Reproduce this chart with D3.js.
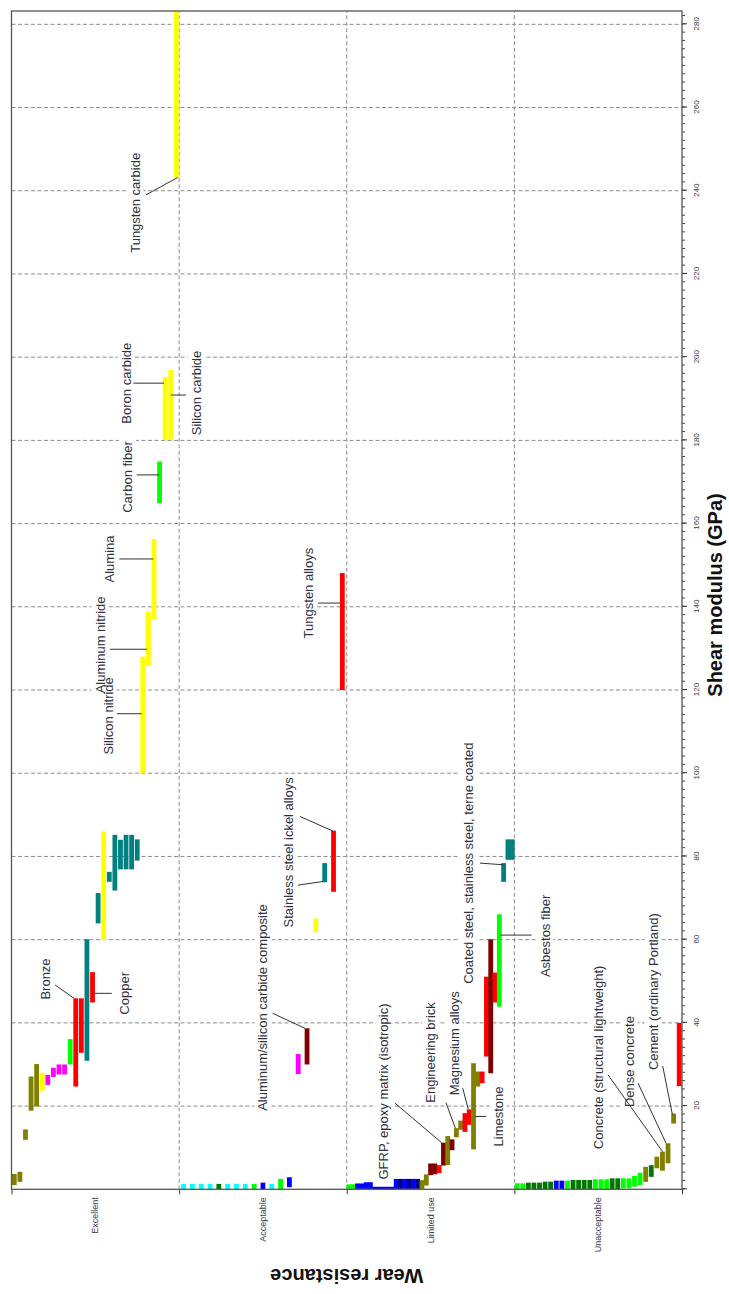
<!DOCTYPE html>
<html>
<head>
<meta charset="utf-8">
<script src="https://cdn.jsdelivr.net/npm/d3@7"></script>
<style>
  html, body { margin: 0; padding: 0; background: #fff; }
  svg { display: block; }
  text { font-family: "Liberation Sans", Arial, Helvetica, sans-serif; }
</style>
</head>
<body>
<svg id="chart" width="729" height="1294"></svg>
<script>
// ---- Data -------------------------------------------------------------

// Wear-resistance classes along the category axis
const categories = ["Excellent", "Acceptable", "Limited use", "Unacceptable"];

// Shear modulus tick labels (GPa)
const modulusTicks = [20, 40, 60, 80, 100, 120, 140, 160, 180, 200, 220, 240, 260, 280];
const modulusMax = 283.2;

// Material families (key -> fill)
const familyColor = {
  natural: "#808000", techCeramic: "#ffff00", glass: "#ff00ff", fibre: "#00ff00",
  nonferrous: "#ff0000", ferrous: "#008080", polymer: "#0000ff", elastomer: "#00008b",
  foam: "#00ffff", composite: "#800000", plant: "#007800"
};

// Each class: [family, low shear modulus, high shear modulus] in slot order
const excellent = [
  ["natural", 1.0, 3.7], ["natural", 1.8, 4.2], ["natural", 11.9, 14.4], ["natural", 18.9, 27.1],
  ["natural", 19.9, 30.1], ["techCeramic", 23.7, 28.0], ["glass", 25.1, 27.5], ["glass", 27.0, 29.2],
  ["glass", 27.6, 30.0], ["glass", 27.6, 30.0], ["fibre", 30.0, 36.1], ["nonferrous", 24.7, 45.9],
  ["nonferrous", 32.8, 45.9], ["ferrous", 30.9, 60.1], ["nonferrous", 44.9, 52.2], ["ferrous", 63.9, 71.2],
  ["techCeramic", 59.9, 86.0], ["ferrous", 73.9, 76.3], ["ferrous", 71.8, 85.2], ["ferrous", 76.9, 84.0],
  ["ferrous", 76.9, 85.2], ["ferrous", 76.9, 85.2], ["ferrous", 79.0, 84.1], ["techCeramic", 100.0, 128.0],
  ["techCeramic", 126.0, 138.8], ["techCeramic", 137.0, 156.3], ["fibre", 164.9, 174.9], ["techCeramic", 180.1, 195.2],
  ["techCeramic", 180.1, 196.9], ["techCeramic", 243.2, 283.2]
];
const acceptable = [
  ["foam", 0.02, 1.3], ["foam", 0.02, 1.3], ["foam", 0.02, 1.3], ["foam", 0.02, 1.3],
  ["plant", 0.02, 1.3], ["foam", 0.02, 1.3], ["foam", 0.02, 1.3], ["foam", 0.02, 1.3],
  ["fibre", 0.02, 1.3], ["polymer", 0.02, 1.6], ["foam", 0.02, 1.3], ["fibre", 0.02, 2.5],
  ["polymer", 0.5, 2.9], ["glass", 27.7, 32.5], ["composite", 30.0, 38.7], ["techCeramic", 61.8, 65.1],
  ["ferrous", 73.8, 78.4], ["nonferrous", 71.5, 86.2], ["nonferrous", 120.0, 148.1]
];
const limitedUse = [
  ["fibre", 0.1, 1.2], ["fibre", 0.1, 1.2], ["polymer", 0.1, 1.4], ["polymer", 0.1, 1.4],
  ["polymer", 0.1, 1.7], ["polymer", 0.1, 1.7], ["polymer", 0.05, 0.6], ["polymer", 0.05, 0.6],
  ["polymer", 0.05, 0.6], ["polymer", 0.05, 0.6], ["polymer", 0.05, 0.6], ["polymer", 0.1, 2.5],
  ["elastomer", 0.1, 2.5], ["polymer", 0.1, 2.5], ["elastomer", 0.1, 2.5], ["polymer", 0.1, 2.5],
  ["elastomer", 0.1, 2.5], ["natural", 0.1, 2.2], ["natural", 0.9, 3.6], ["composite", 3.4, 6.2],
  ["composite", 3.6, 6.2], ["nonferrous", 3.9, 5.8], ["composite", 5.7, 11.2], ["natural", 5.8, 12.8],
  ["composite", 9.4, 12.0], ["natural", 12.5, 14.7], ["natural", 14.3, 16.5], ["nonferrous", 13.8, 18.3],
  ["nonferrous", 15.5, 19.2], ["natural", 9.6, 30.3], ["natural", 24.7, 28.3], ["nonferrous", 25.5, 28.3],
  ["nonferrous", 31.9, 51.1], ["composite", 27.9, 60.1], ["nonferrous", 44.9, 52.1], ["fibre", 43.9, 66.1],
  ["ferrous", 73.9, 78.4], ["ferrous", 79.2, 84.1], ["ferrous", 79.2, 84.1]
];
const unacceptable = [
  ["fibre", 0.02, 1.44], ["fibre", 0.02, 1.44], ["plant", 0.02, 1.6], ["plant", 0.02, 1.6],
  ["plant", 0.02, 1.6], ["plant", 0.02, 1.84], ["plant", 0.02, 1.84], ["polymer", 0.02, 2.08],
  ["polymer", 0.02, 2.08], ["fibre", 0.02, 2.08], ["plant", 0.02, 2.24], ["plant", 0.02, 2.24],
  ["plant", 0.02, 2.24], ["plant", 0.02, 2.24], ["fibre", 0.02, 2.4], ["fibre", 0.02, 2.4],
  ["fibre", 0.02, 2.4], ["plant", 0.02, 2.64], ["plant", 0.02, 2.64], ["fibre", 0.24, 2.64],
  ["fibre", 0.24, 2.64], ["fibre", 0.63, 3.2], ["fibre", 1.03, 4.0], ["natural", 1.8, 5.4],
  ["plant", 3.0, 5.8], ["natural", 5.05, 7.84], ["natural", 4.47, 9.04], ["natural", 6.25, 11.06],
  ["natural", 15.8, 18.2], ["nonferrous", 24.8, 40.0]
];
const classMaterials = [excellent, acceptable, limitedUse, unacceptable];

// Material labels: text, anchor [modulus, class position], leader segments [[m1, c1], [m2, c2]]
const annotations = [
  { text: "Tungsten carbide", at: [237.1, 0.737], leaders: [[[239.0, 0.802], [243.2, 0.992]]] },
  { text: "Boron carbide", at: [193.75, 0.684], leaders: [[[193.75, 0.727], [193.75, 0.910]]] },
  { text: "Silicon carbide", at: [191.4, 1.101], leaders: [[[190.9, 0.950], [190.9, 1.041]]] },
  { text: "Carbon fiber", at: [171.2, 0.692], leaders: [[[171.7, 0.747], [171.7, 0.882]]] },
  { text: "Alumina", at: [151.5, 0.582], leaders: [[[151.5, 0.643], [151.5, 0.846]]] },
  { text: "Aluminum nitride", at: [130.85, 0.528], leaders: [[[129.8, 0.588], [129.8, 0.808]]] },
  { text: "Silicon nitride", at: [113.8, 0.576], leaders: [[[114.3, 0.628], [114.3, 0.777]]] },
  { text: "Bronze", at: [50.55, 0.205], leaders: [[[49.1, 0.260], [45.9, 0.373]]] },
  { text: "Copper", at: [47.1, 0.674], leaders: [[[47.1, 0.479], [47.1, 0.598]]] },
  { text: "Aluminum/silicon carbide composite", at: [43.7, 1.500], leaders: [[[42.3, 1.558], [38.7, 1.751]]] },
  { text: "Stainless steel ickel alloys", at: [81.0, 1.655],
    leaders: [[[89.6, 1.721], [86.1, 1.918]], [[73.1, 1.709], [74.0, 1.861]]] },
  { text: "Tungsten alloys", at: [143.3, 1.769], leaders: [[[140.9, 1.829], [140.9, 1.960]]] },
  { text: "GFRP, epoxy matrix (isotropic)", at: [23.5, 2.222], leaders: [[[20.7, 2.288], [11.2, 2.566]]] },
  { text: "Engineering brick", at: [32.9, 2.501], leaders: [[[20.8, 2.592], [14.7, 2.648]]] },
  { text: "Magnesium alloys", at: [35.1, 2.641], leaders: [[[24.3, 2.692], [19.2, 2.725]]] },
  { text: "Limestone", at: [17.5, 2.904], leaders: [[[17.5, 2.765], [17.5, 2.831]]] },
  { text: "Coated steel, stainless steel, terne coated", at: [78.4, 2.725], leaders: [[[78.4, 2.795], [78.0, 2.934]]] },
  { text: "Asbestos fiber", at: [60.9, 3.183], leaders: [[[61.1, 2.914], [61.1, 3.103]]] },
  { text: "Concrete (structural lightweight)", at: [31.7, 3.504], leaders: [[[27.5, 3.559], [9.04, 3.884]]] },
  { text: "Dense concrete", at: [30.7, 3.685], leaders: [[[25.5, 3.738], [11.06, 3.905]]] },
  { text: "Cement (ordinary Portland)", at: [47.5, 3.827], leaders: [[[29.6, 3.885], [17.9, 3.943]]] }
];

// ---- Layout -----------------------------------------------------------
// The chart is laid out landscape (W x H) and turned a quarter turn
// counter-clockwise so the modulus axis runs upward on the page.
const W = 1294, H = 729;
const plot = { left: 104.7, right: 1283, top: 11.5, bottom: 682 };
const barThickness = 4.8;

const svg = d3.select("#chart");
const g = svg.append("g").attr("transform", `translate(0,${W}) rotate(-90)`);

const x = d3.scaleLinear().domain([0, modulusMax]).range([plot.left, plot.right]);
const y = d3.scaleLinear().domain([0, categories.length]).range([plot.top, plot.bottom]);

g.append("defs").append("clipPath").attr("id", "plotClip")
  .append("rect")
  .attr("x", plot.left).attr("y", plot.top)
  .attr("width", plot.right - plot.left).attr("height", plot.bottom - plot.top);

const gridLayer = g.append("g");
const boxLayer = g.append("g");
const barLayer = g.append("g").attr("clip-path", "url(#plotClip)");
const leaderLayer = g.append("g");
const textLayer = g.append("g");
const axisLayer = g.append("g");

// ---- Grid -------------------------------------------------------------
gridLayer.selectAll("line.vgrid").data(modulusTicks).join("line")
  .attr("x1", d => x(d)).attr("x2", d => x(d))
  .attr("y1", plot.top).attr("y2", plot.bottom)
  .attr("stroke", "#8c8c8c").attr("stroke-width", 1).attr("stroke-dasharray", "4,2.5");

gridLayer.selectAll("line.cgrid").data(d3.range(1, categories.length)).join("line")
  .attr("x1", plot.left).attr("x2", plot.right)
  .attr("y1", d => y(d)).attr("y2", d => y(d))
  .attr("stroke", "#8c8c8c").attr("stroke-width", 1).attr("stroke-dasharray", "4,2.5");

// ---- Bars -------------------------------------------------------------
const bars = [];
classMaterials.forEach((list, k) => {
  list.forEach((m, i) => {
    bars.push({ family: m[0], low: m[1], high: m[2], pos: k + (i + 0.5) / list.length });
  });
});

barLayer.selectAll("rect").data(bars).join("rect")
  .attr("x", d => x(d.low))
  .attr("width", d => Math.max(0.8, x(d.high) - x(d.low)))
  .attr("y", d => y(d.pos) - barThickness / 2)
  .attr("height", barThickness)
  .attr("fill", d => familyColor[d.family]);

// ---- Labels and leaders -----------------------------------------------
annotations.forEach(a => {
  a.leaders.forEach(seg => {
    leaderLayer.append("line")
      .attr("x1", x(seg[0][0])).attr("y1", y(seg[0][1]))
      .attr("x2", x(seg[1][0])).attr("y2", y(seg[1][1]))
      .attr("stroke", "#333").attr("stroke-width", 1);
  });
  const t = textLayer.append("text")
    .attr("x", x(a.at[0])).attr("y", y(a.at[1]))
    .attr("text-anchor", "middle")
    .attr("dominant-baseline", "central")
    .attr("font-size", 13)
    .attr("fill", "#2e3140")
    .text(a.text);
  const b = t.node().getBBox();
  boxLayer.append("rect")
    .attr("x", b.x - 1.5).attr("y", b.y - 1)
    .attr("width", b.width + 3).attr("height", b.height + 2)
    .attr("fill", "#fff");
});

// ---- Axes -------------------------------------------------------------
// Minor modulus ticks every 2 GPa
axisLayer.append("g")
  .attr("transform", `translate(0,${plot.bottom})`)
  .call(d3.axisBottom(x).tickValues(d3.range(0, 283, 2)).tickFormat("").tickSize(3).tickSizeOuter(0))
  .call(s => s.select(".domain").remove())
  .call(s => s.selectAll("line").attr("stroke", "#444"));

// Major modulus ticks and labels
axisLayer.append("g")
  .attr("transform", `translate(0,${plot.bottom})`)
  .call(d3.axisBottom(x).tickValues([0].concat(modulusTicks)).tickFormat(d => d === 0 ? "" : d)
    .tickSize(5).tickSizeOuter(0).tickPadding(6))
  .call(s => s.select(".domain").remove())
  .call(s => s.selectAll("line").attr("stroke", "#333"))
  .call(s => s.selectAll("text")
    .attr("font-family", "Liberation Sans, Arial, sans-serif")
    .attr("font-size", 8).attr("fill", "#3a3a4a"));

// Category axis ticks at class boundaries
axisLayer.append("g")
  .attr("transform", `translate(${plot.left},0)`)
  .call(d3.axisLeft(y).tickValues(d3.range(0, categories.length + 1)).tickFormat("").tickSize(5).tickSizeOuter(0))
  .call(s => s.select(".domain").remove())
  .call(s => s.selectAll("line").attr("stroke", "#333"));

// Plot frame
axisLayer.append("rect")
  .attr("x", plot.left).attr("y", plot.top)
  .attr("width", plot.right - plot.left).attr("height", plot.bottom - plot.top)
  .attr("fill", "none").attr("stroke", "#555").attr("stroke-width", 1.3);

// Class names
axisLayer.selectAll("text.cat").data(categories).join("text")
  .attr("class", "cat")
  .attr("x", plot.left - 8)
  .attr("y", (d, i) => y(i + 0.5))
  .attr("text-anchor", "end")
  .attr("dominant-baseline", "central")
  .attr("font-size", 9)
  .attr("fill", "#3a3a4a")
  .text(d => d);

// Axis titles
axisLayer.append("text")
  .attr("x", 699).attr("y", 715)
  .attr("text-anchor", "middle").attr("dominant-baseline", "central")
  .attr("font-size", 20).attr("font-weight", "bold").attr("fill", "#111")
  .text("Shear modulus (GPa)");

axisLayer.append("text")
  .attr("transform", `translate(18,${(plot.top + plot.bottom) / 2}) rotate(-90)`)
  .attr("text-anchor", "middle").attr("dominant-baseline", "central")
  .attr("font-size", 20).attr("font-weight", "bold").attr("fill", "#111")
  .text("Wear resistance");
</script>
</body>
</html>
